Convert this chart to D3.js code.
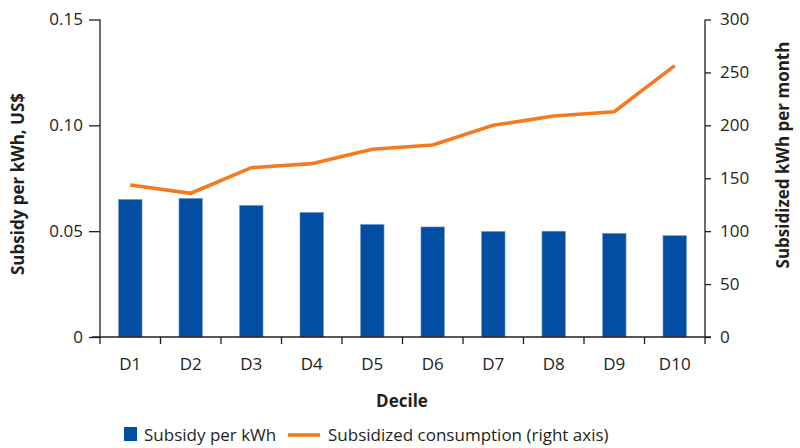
<!DOCTYPE html>
<html><head><meta charset="utf-8">
<script src="https://cdn.jsdelivr.net/npm/d3@7"></script>
<style>body{margin:0;background:#fff;} text{font-family:"Open Sans",sans-serif;fill:#231f20;}</style>
</head><body><svg id="c" width="800" height="448"></svg>
<script>
const categories = ["D1","D2","D3","D4","D5","D6","D7","D8","D9","D10"];
const subsidyPerKWh = [0.065,0.0655,0.0622,0.0589,0.0532,0.052,0.0499,0.050,0.049,0.0479];
const subsidizedConsumption = [143.6,135.8,160,163.8,177.4,181.4,200,208.8,212.9,256.4];
const leftTicks = [0,0.05,0.10,0.15];
const rightTicks = [0,50,100,150,200,250,300];

const svg = d3.select("#c");
const L=100,R=705,T=19.5,B=337;
const x = d3.scaleBand().domain(categories).range([L,R]).paddingInner(0.61).paddingOuter(0.305);
const xb = d3.scaleBand().domain(categories).range([L,R]);
const yL = d3.scaleLinear().domain([0,0.15]).range([B,T]);
const yR = d3.scaleLinear().domain([0,300]).range([B,T]);
const blue="#034ea2", orange="#f47a20", axc="#231f20";

// bars
svg.append("g").selectAll("rect").data(categories).join("rect")
  .attr("x",d=>x(d)).attr("width",x.bandwidth())
  .attr("y",(d,i)=>yL(subsidyPerKWh[i])).attr("height",(d,i)=>B-yL(subsidyPerKWh[i]))
  .attr("fill",blue).attr("stroke","#7fa3d1").attr("stroke-width",0.6);

// line
const line = d3.line().x((d,i)=>xb(categories[i])+xb.bandwidth()/2).y(d=>yR(d));
svg.append("path").datum(subsidizedConsumption).attr("d",line)
  .attr("fill","none").attr("stroke",orange).attr("stroke-width",3.6);

// left axis
const gl = svg.append("g").attr("transform",`translate(${L},0)`)
  .call(d3.axisLeft(yL).tickValues(leftTicks).tickFormat(d=>d===0?"0":d3.format(".2f")(d)).tickSize(11).tickPadding(6));
// right axis
const gr = svg.append("g").attr("transform",`translate(${R},0)`)
  .call(d3.axisRight(yR).tickValues(rightTicks).tickSize(6).tickPadding(9));
// bottom axis
const gb = svg.append("g").attr("transform",`translate(0,${B})`)
  .call(d3.axisBottom(xb).tickValues([]).tickSize(0));
gb.selectAll(".tick").remove();
const boundaries = categories.map(c=>xb(c)).concat([R]);
gb.selectAll("line.b").data(boundaries).join("line").attr("class","b")
  .attr("x1",d=>d).attr("x2",d=>d).attr("y1",0).attr("y2",7).attr("stroke",axc).attr("stroke-width",1.3);
gb.selectAll("text.lab").data(categories).join("text").attr("class","lab")
  .attr("x",d=>xb(d)+xb.bandwidth()/2).attr("y",33).attr("text-anchor","middle")
  .attr("font-size",17).text(d=>d);
gb.select(".domain").attr("d",`M${L-8},0H${R+6}`);

[gl,gr,gb].forEach(g=>{
  g.select(".domain").attr("stroke",axc).attr("stroke-width",1.3);
  g.selectAll(".tick line").attr("stroke",axc).attr("stroke-width",1.3);
  g.selectAll(".tick text").attr("font-size",17).attr("fill",axc).style("font-family","'Open Sans',sans-serif");
});
gl.select(".domain").attr("d",`M0,${T}V${B}`);
gr.select(".domain").attr("d",`M0,${T}V${B}`);

// titles
svg.append("text").attr("transform","translate(24,184) rotate(-90)").attr("text-anchor","middle")
  .attr("font-size",17).attr("font-weight","bold").text("Subsidy per kWh, US$");
svg.append("text").attr("transform","translate(789,155) rotate(-90)").attr("text-anchor","middle")
  .attr("font-size",17).attr("font-weight","bold").text("Subsidized kWh per month");
svg.append("text").attr("x",402).attr("y",407).attr("text-anchor","middle")
  .attr("font-size",17).attr("font-weight","bold").text("Decile");

// legend
const lg = svg.append("g");
lg.append("rect").attr("x",124).attr("y",427).attr("width",13).attr("height",14).attr("fill",blue);
lg.append("text").attr("x",144).attr("y",441).attr("font-size",17).text("Subsidy per kWh");
lg.append("line").attr("x1",288).attr("x2",320).attr("y1",435).attr("y2",435).attr("stroke",orange).attr("stroke-width",3.6);
lg.append("text").attr("x",328).attr("y",441).attr("font-size",17).text("Subsidized consumption (right axis)");
</script></body></html>
